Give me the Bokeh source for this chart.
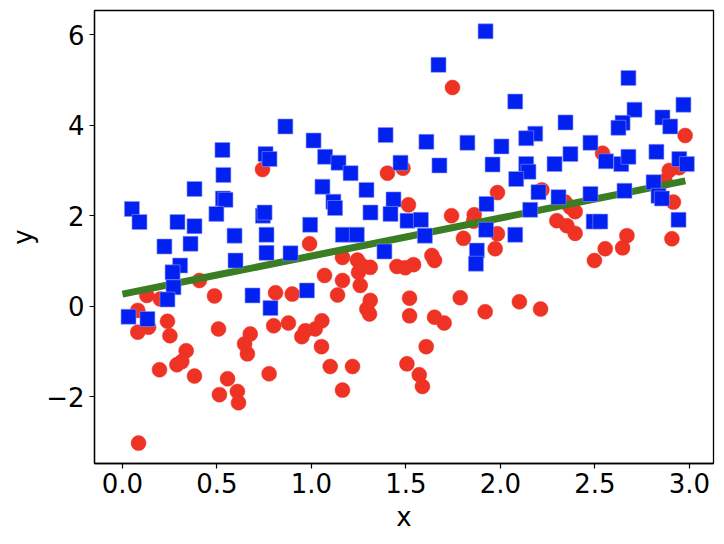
from bokeh.plotting import figure
from bokeh.models import Range1d, FixedTicker
from bokeh.embed import file_html
from bokeh.resources import INLINE

red_x = [0.741, 0.407, 0.129, 0.20, 0.487, 0.081, 0.138, 0.081, 0.238, 0.251,
         0.508, 0.676, 0.646, 0.661, 0.337, 0.314, 0.288, 0.196, 0.381, 0.556,
         0.513, 0.608, 0.614, 0.776, 0.085, 0.81, 0.898, 0.80, 0.878, 0.99,
         1.746, 1.402, 1.484, 1.984, 1.513, 1.741, 1.861, 1.858, 1.984, 1.804,
         1.972, 1.164, 1.243, 1.267, 1.311, 1.249, 1.452, 1.496, 1.54, 1.637,
         1.651, 1.069, 1.164, 1.258, 1.138, 1.311, 1.293, 1.307, 1.519, 1.519,
         1.787, 1.919, 1.651, 1.702, 1.055, 1.02, 0.967, 0.949, 1.053, 1.607,
         1.099, 1.217, 1.164, 1.505, 1.57, 1.587, 2.977, 2.54, 2.893, 2.946,
         2.219, 2.342, 2.395, 2.369, 2.298, 2.351, 2.395, 2.915, 2.87, 2.669,
         2.907, 2.554, 2.646, 2.497, 2.10, 2.212]
red_y = [3.02, 0.57, 0.24, 0.16, 0.23, -0.09, -0.46, -0.57, -0.33, -0.65,
         -0.50, -0.61, -0.83, -1.05, -0.98, -1.22, -1.29, -1.40, -1.54, -1.60,
         -1.95, -1.88, -2.13, -1.49, -3.02, 0.30, 0.27, -0.43, -0.37, 1.38,
         4.83, 2.94, 3.05, 2.51, 2.24, 2.00, 2.02, 1.88, 1.60, 1.50,
         1.27, 1.08, 1.02, 0.90, 0.86, 0.75, 0.88, 0.85, 0.92, 1.12,
         1.01, 0.68, 0.57, 0.46, 0.25, 0.13, -0.06, -0.17, 0.18, -0.21,
         0.19, -0.12, -0.24, -0.37, -0.32, -0.50, -0.54, -0.67, -0.89, -0.89,
         -1.33, -1.33, -1.85, -1.27, -1.51, -1.77, 3.77, 3.38, 3.00, 3.06,
         2.57, 2.30, 2.09, 2.19, 1.89, 1.78, 1.61, 2.30, 2.77, 1.56,
         1.49, 1.27, 1.29, 1.01, 0.10, -0.06]

blue_x = [0.862, 0.529, 0.757, 0.778, 0.534, 0.381, 0.531, 0.545, 0.497, 0.05,
          0.09, 0.291, 0.381, 0.743, 0.752, 0.593, 0.762, 0.222, 0.36, 0.598,
          0.762, 0.889, 0.305, 0.265, 0.27, 0.238, 0.032, 0.132, 0.688, 0.783,
          0.976, 1.921, 1.672, 1.011, 1.392, 1.608, 1.825, 2.005, 1.072, 1.143,
          1.207, 1.471, 1.677, 1.958, 1.058, 1.291, 1.116, 1.125, 1.434, 1.418,
          1.312, 1.508, 1.579, 1.926, 1.924, 0.993, 1.166, 1.24, 1.60, 1.386,
          1.875, 1.87, 2.677, 2.078, 2.968, 2.709, 2.344, 2.646, 2.624, 2.857,
          2.898, 2.184, 2.136, 2.476, 2.37, 2.286, 2.825, 2.558, 2.639, 2.677,
          2.946, 2.986, 2.136, 2.148, 2.083, 2.201, 2.307, 2.476, 2.656, 2.81,
          2.836, 2.854, 2.157, 2.493, 2.528, 2.942, 2.078]
blue_y = [3.97, 3.45, 3.36, 3.25, 2.90, 2.59, 2.38, 2.35, 2.04, 2.15,
          1.86, 1.86, 1.77, 2.00, 2.07, 1.56, 1.58, 1.32, 1.38, 1.01,
          1.18, 1.17, 0.90, 0.75, 0.42, 0.15, -0.23, -0.28, 0.24, -0.04,
          0.35, 6.07, 5.33, 3.66, 3.78, 3.63, 3.61, 3.53, 3.30, 3.17,
          2.94, 3.17, 3.11, 3.13, 2.64, 2.57, 2.31, 2.17, 2.36, 2.04,
          2.07, 1.89, 1.91, 2.26, 1.69, 1.80, 1.58, 1.58, 1.56, 1.21,
          1.23, 0.94, 5.04, 4.52, 4.45, 4.34, 4.06, 4.05, 3.94, 4.17,
          3.97, 3.81, 3.71, 3.61, 3.36, 3.14, 3.41, 3.20, 3.14, 3.30,
          3.25, 3.14, 3.14, 2.97, 2.81, 2.52, 2.41, 2.48, 2.55, 2.74,
          2.44, 2.38, 2.13, 1.87, 1.87, 1.91, 1.58]

green_x = [0.0, 0.5, 1.0, 1.5, 2.0, 2.5, 2.978]
green_y = [0.27, 0.69, 1.11, 1.53, 1.95, 2.37, 2.77]

x_ticks = [0.0, 0.5, 1.0, 1.5, 2.0, 2.5, 3.0]
x_tick_labels = ["0.0", "0.5", "1.0", "1.5", "2.0", "2.5", "3.0"]
y_ticks = [-2, 0, 2, 4, 6]
y_tick_labels = ["\u22122", "0", "2", "4", "6"]

FONT = "DejaVu Sans"

p = figure(width=716, height=536,
           x_range=Range1d(-0.148, 3.127), y_range=Range1d(-3.47, 6.53),
           output_backend="svg", toolbar_location=None,
           min_border_left=94, min_border_right=3, min_border_top=10,
           min_border_bottom=73)

p.scatter(red_x, red_y, marker="circle", size=15, fill_color="#ee3324",
          line_color="#ee3324", line_width=0.5)
p.line(green_x, green_y, line_color="#3a7d22", line_width=7)
p.scatter(blue_x, blue_y, marker="square", size=15, fill_color="#0220f0",
          line_color="#8a95f5", line_width=0.6)

p.xgrid.visible = False
p.ygrid.visible = False
p.outline_line_color = "black"
p.outline_line_width = 1.3
p.background_fill_color = "white"
p.border_fill_color = "white"

p.xaxis.ticker = FixedTicker(ticks=x_ticks)
p.yaxis.ticker = FixedTicker(ticks=y_ticks)
p.xaxis.major_label_overrides = {t: l for t, l in zip(x_ticks, x_tick_labels)}
p.yaxis.major_label_overrides = {t: l for t, l in zip(y_ticks, y_tick_labels)}

for ax in (p.xaxis, p.yaxis):
    ax.axis_line_color = "black"
    ax.axis_line_width = 1.3
    ax.major_tick_out = 5
    ax.major_tick_in = 0
    ax.major_tick_line_width = 1.2
    ax.minor_tick_line_color = None
    ax.major_label_text_font = FONT
    ax.major_label_text_font_size = "26px"
    ax.major_label_text_color = "black"
    ax.axis_label_text_font = FONT
    ax.axis_label_text_font_size = "26px"
    ax.axis_label_text_font_style = "normal"
    ax.axis_label_text_color = "black"

p.xaxis.major_label_standoff = 4
p.yaxis.major_label_standoff = 5
p.xaxis.axis_label = "x"
p.yaxis.axis_label = "y"
p.xaxis.axis_label_standoff = 6
p.yaxis.axis_label_standoff = 5

open("out.html", "w").write(file_html(p, INLINE))
